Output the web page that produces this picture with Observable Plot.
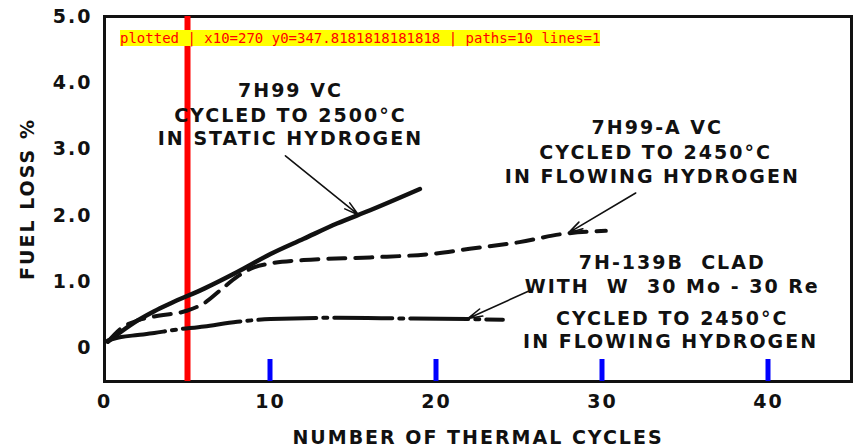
<!DOCTYPE html>
<html>
<head>
<meta charset="utf-8">
<script src="https://cdn.jsdelivr.net/npm/d3@7"></script>
<script src="https://cdn.jsdelivr.net/npm/@observablehq/plot@0.6"></script>
<style>
  html, body { margin: 0; padding: 0; background: #fff; }
</style>
</head>
<body>
<div id="chart"></div>
<script>
const staticX = [0.2, 1, 2, 3, 4, 6, 8, 10, 12, 14, 16, 19];
const staticY = [0.1, 0.25, 0.42, 0.56, 0.68, 0.9, 1.15, 1.42, 1.65, 1.88, 2.08, 2.4];
const flowX = [0.2, 1, 2, 3, 5, 6, 7, 8, 9, 10, 12, 16, 20, 22, 25, 27.5, 30.2];
const flowY = [0.1, 0.3, 0.42, 0.48, 0.57, 0.68, 0.88, 1.08, 1.22, 1.28, 1.33, 1.37, 1.43, 1.5, 1.6, 1.72, 1.77];
const cladX = [0.2, 1, 2, 3, 4, 6, 8, 10, 14, 18, 22, 24];
const cladY = [0.12, 0.17, 0.2, 0.23, 0.27, 0.33, 0.4, 0.44, 0.46, 0.45, 0.44, 0.43];

const xTickLabels = [0, 10, 20, 30, 40];
const xMajorTicks = [10, 20, 30, 40];
const xMinorTicks = [15, 25, 35];
const yTickValues = [0, 1, 2, 3, 4, 5];
const yTickLabels = ["0", "1.0", "2.0", "3.0", "4.0", "5.0"];
const yMajorTicks = [0, 1, 2, 3, 4];
const yMinorTicks = [0.5, 1.5, 2.5, 3.5, 4.5];

const xTitle = "NUMBER OF THERMAL CYCLES";
const yTitle = "FUEL LOSS %";

const noteText = [
  "7H99 VC", "CYCLED TO 2500°C", "IN STATIC HYDROGEN",
  "7H99-A VC", "CYCLED TO 2450°C", "IN FLOWING HYDROGEN",
  "7H-139B  CLAD", "WITH  W  30 Mo - 30 Re", "CYCLED TO 2450°C", "IN FLOWING HYDROGEN"
];
const noteX = [11.2, 11.2, 11.2, 33.3, 33.2, 33.0, 34.2, 34.2, 34.2, 34.1];
const noteY = [3.88, 3.5, 3.15, 3.32, 2.95, 2.58, 1.28, 0.93, 0.45, 0.1];

const arrowX1 = [10.9, 32.0, 25.8];
const arrowY1 = [2.9, 2.34, 0.89];
const arrowX2 = [15.3, 27.95, 21.9];
const arrowY2 = [2.01, 1.74, 0.45];

const W = 861, H = 448, ML = 104, MR = 10, MT = 16, MB = 67;
const xDom = [0, 45], yDom = [-0.5, 5];
const series = (xs, ys) => xs.map((x, i) => ({x, y: ys[i]}));
const notes = noteText.map((t, i) => ({t, x: noteX[i], y: noteY[i]}));
const arrows = arrowX1.map((x1, i) => ({x1, y1: arrowY1[i], x2: arrowX2[i], y2: arrowY2[i]}));
const ink = "#111";

let dbg = "start";
let chart;
try {
chart = Plot.plot({
  width: W, height: H,
  marginLeft: ML, marginRight: MR, marginTop: MT, marginBottom: MB,
  x: {domain: xDom},
  y: {domain: yDom},
  style: {fontFamily: "DejaVu Sans", fontSize: "19px", fontWeight: "bold", letterSpacing: "2px", color: ink, background: "#fff"},
  marks: [
    Plot.frame({stroke: ink, fill: "none", strokeWidth: 3}),
    Plot.ruleX([5], {stroke: "red", strokeWidth: 6}),
    Plot.axisX(xTickLabels, {anchor: "bottom", tickSize: 0, tickPadding: 13, label: null, tickFormat: d => String(d)}),
    Plot.axisY(yTickValues, {anchor: "left", tickSize: 0, tickPadding: 12, label: null,
      tickFormat: d => yTickLabels[yTickValues.indexOf(d)]}),
    Plot.text([xTitle], {text: d => d, frameAnchor: "bottom", dy: 56, textAnchor: "middle", lineAnchor: "middle", fill: ink}),
    Plot.text([yTitle], {text: d => d, frameAnchor: "left", dx: -77, rotate: -90, textAnchor: "middle", lineAnchor: "middle", fill: ink}),
    Plot.line(series(staticX, staticY), {x: "x", y: "y", stroke: ink, strokeWidth: 4.5, curve: "monotone-x"}),
    Plot.line(series(flowX, flowY), {x: "x", y: "y", stroke: ink, strokeWidth: 4, strokeDasharray: "17,10", curve: "monotone-x"}),
    Plot.line(series(cladX, cladY), {x: "x", y: "y", stroke: ink, strokeWidth: 4, strokeDasharray: "58,7,4,7", curve: "monotone-x"}),
    Plot.arrow(arrows, {x1: "x1", y1: "y1", x2: "x2", y2: "y2", stroke: ink, strokeWidth: 1.6, headAngle: 30, headLength: 14}),
    Plot.text(notes, {x: "x", y: "y", text: "t", fill: ink})
  ]
});
dbg = "plotted";
} catch (e) { dbg = "plot err: " + e.message; }

try {
  const sx = chart.scale("x"), sy = chart.scale("y");
  dbg += " | x10=" + sx.apply(10) + " y0=" + sy.apply(0);
  const svg = d3.select(chart);
  const g = svg.append("g").attr("fill", "none").attr("stroke", "blue").attr("stroke-width", 5);
  xMajorTicks.forEach(v => {
    g.append("path").attr("d", `M${sx.apply(v)},${sy.apply(yDom[0])}L${sx.apply(v)},${sy.apply(yDom[0]) - 22}`);
  });
  dbg += " | paths=" + chart.querySelectorAll("path").length + " lines=" + chart.querySelectorAll("line").length;
} catch (e) { dbg += " | d3 err: " + e.message; }

document.getElementById("chart").appendChild(chart);
const p = document.createElement("div");
p.style.cssText = "position:absolute;left:120px;top:30px;font:14px monospace;color:red;background:#ff0";
p.textContent = dbg;
document.body.appendChild(p);
</script>
</body>
</html>
